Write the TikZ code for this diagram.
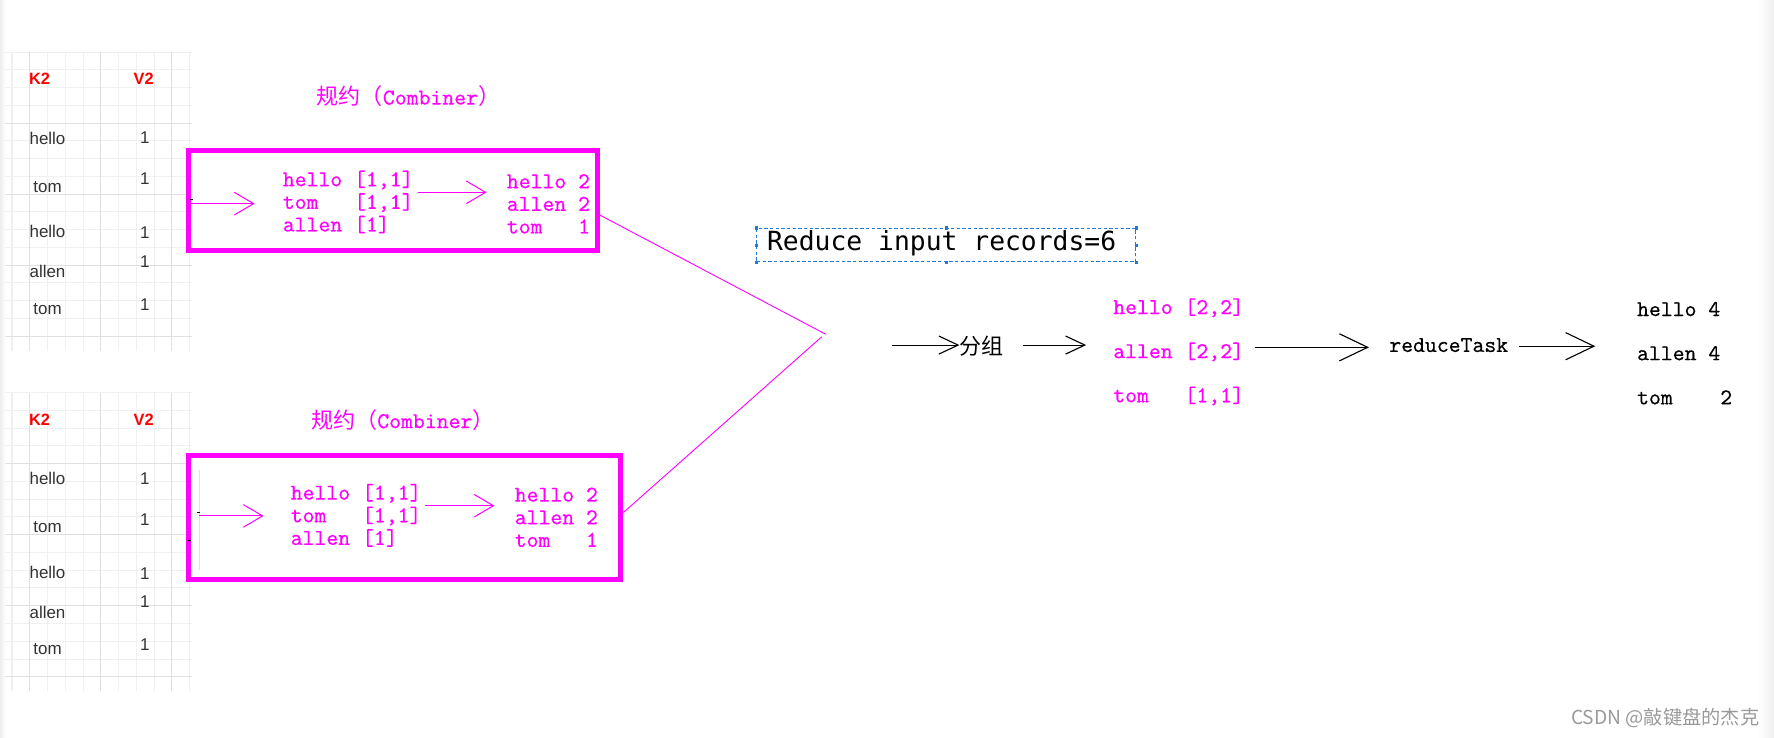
\documentclass[tikz,border=0pt]{standalone}
\usepackage{fontspec}
\usetikzlibrary{arrows.meta}
\newfontfamily\cjk{Noto Sans CJK SC}
\newfontfamily\dvm{DejaVu Sans Mono}
\newfontfamily\lib{Liberation Sans}
\newfontfamily\mymono{lmmono10-regular.otf}[FakeBold=0.35]
\definecolor{mg}{HTML}{FF00FF}
\definecolor{tbltext}{HTML}{333333}
\definecolor{gridminor}{HTML}{F0F0F0}
\definecolor{gridmajor}{HTML}{E0E0E0}
\definecolor{selblue}{HTML}{1E7BD6}
\definecolor{wm}{HTML}{9A9A9A}
\definecolor{hdrred}{HTML}{FF0000}
\begin{document}
\begin{tikzpicture}[x=1pt,y=-1pt,
  txt/.style={inner sep=0pt, outer sep=0pt},
  mono/.style={txt, font=\fontsize{20}{20}\selectfont\mymono, align=left, anchor=west},
  monowide/.style={txt, font=\fontsize{20}{39}\selectfont\mymono, align=left, anchor=west},
  tk/.style={txt, font=\fontsize{15}{15}\selectfont\lib, text=tbltext},
  hdr/.style={txt, font=\fontsize{14.5}{14.5}\selectfont\lib\bfseries, text=hdrred},
  ttl/.style={txt, text=mg, anchor=west, font=\fontsize{19.5}{19.5}\selectfont\cjk},
  combox/.style={draw=mg, line width=4.4pt, inner sep=0pt, fill=none},
  mline/.style={draw=mg, line width=0.8pt},
  marrow/.style={draw=mg, line width=0.9pt, -{Straight Barb[length=17pt,width=20pt]}},
  sarrow/.style={draw=black, line width=1pt, -{Straight Barb[length=17pt,width=16pt]}},
  barrow/.style={draw=black, line width=1pt, -{Straight Barb[length=25pt,width=24pt]}},
  gminor/.style={draw=gridminor, line width=0.9pt},
  gmajor/.style={draw=gridmajor, line width=0.9pt},
  handle/.style={fill=selblue}
]
\useasboundingbox (0,0) rectangle (1568,652);
\fill[white] (0,0) rectangle (1568,652);
% screenshot edge strips
\shade[left color=gray!14, right color=white] (0,0) rectangle (5,652);
\shade[left color=white, right color=gray!12] (1553,0) rectangle (1568,652);

% grids of the two tables
\foreach \oy in {0,301} {
  \foreach \k in {0,...,10} { \draw[gminor] (10.6+15.7*\k, 46+\oy) -- (10.6+15.7*\k, 310+\oy); }
  \foreach \k in {0,...,16} { \draw[gminor] (4.4, 46+15.7*\k+\oy) -- (170, 46+15.7*\k+\oy); }
  \foreach \k in {1,5,9} { \draw[gmajor] (10.6+15.7*\k, 46+\oy) -- (10.6+15.7*\k, 310+\oy); }
  \foreach \k in {4,8,12,16} { \draw[gmajor] (4.4, 46+15.7*\k+\oy) -- (170, 46+15.7*\k+\oy); }
}

% table texts
\foreach \oy/\s in {0/a,301/b} {
  \node[hdr] (k2\s) at (35,70+\oy) {K2};
  \node[hdr] (v2\s) at (127,70+\oy) {V2};
  \node[tk] (ka\s) at (42,122+\oy) {hello};
  \node[tk] (kb\s) at (42,165+\oy) {tom};
  \node[tk] (kc\s) at (42,205+\oy) {hello};
  \node[tk] (kd\s) at (42,240+\oy) {allen};
  \node[tk] (ke\s) at (42,273+\oy) {tom};
  \node[tk] (va\s) at (128,122+\oy) {1};
  \node[tk] (vb\s) at (128,158+\oy) {1};
  \node[tk] (vc\s) at (128,206+\oy) {1};
  \node[tk] (vd\s) at (128,231+\oy) {1};
  \node[tk] (ve\s) at (128,269+\oy) {1};
}

% titles
\node[ttl] (title1) at (280,85) {规约（{\fontsize{20}{20}\selectfont\mymono Combiner}）};
\node[ttl] (title2) at (275,371) {规约（{\fontsize{20}{20}\selectfont\mymono Combiner}）};

% combiner boxes
\node[combox, minimum width=361.6pt, minimum height=88.6pt] (box1) at (347,177.5) {};
\node[combox, minimum width=382.6pt, minimum height=109.6pt] (box2) at (357.5,457) {};

% small artefact ticks
\draw[black, line width=0.8pt] (168,176) -- (171,176);
\draw[gray!25, line width=0.8pt] (176,415) -- (176,504);
\draw[black, line width=0.8pt] (174,453) -- (177,453);
\draw[black, line width=0.8pt] (166,478) -- (169,478);

% box 1 contents
\node[mono, text=mg] (in1) at (250,178.5) {hello [1,1]\\tom~~~[1,1]\\allen [1]};
\node[mono, text=mg] (out1) at (448,180.2) {hello 2\\allen 2\\tom~~~1};
\coordinate (m1a) at (168,180);
\coordinate (m1b) at (225,180);
\coordinate (m2a) at (369.5,170);
\coordinate (m2b) at (430,170);
\draw[marrow] (m1a) -- (m1b);
\draw[marrow] (m2a) -- (m2b);

% box 2 contents
\node[mono, text=mg] (in2) at (257,455.5) {hello [1,1]\\tom~~~[1,1]\\allen [1]};
\node[mono, text=mg] (out2) at (455,457.2) {hello 2\\allen 2\\tom~~~1};
\coordinate (m3a) at (176,456);
\coordinate (m3b) at (233,456);
\coordinate (m4a) at (376,447);
\coordinate (m4b) at (437,447);
\draw[marrow] (m3a) -- (m3b);
\draw[marrow] (m4a) -- (m4b);

% merging lines
\coordinate (j1) at (730,295.5);
\coordinate (j2) at (726.4,297.6);
\draw[mline] ([yshift=-12.5pt]box1.east) -- (j1);
\draw[mline] ([yshift=4pt]box2.east) -- (j2);

% reduce input records
\node[draw=selblue, line width=0.9pt, dash pattern=on 3pt off 2pt, minimum width=335pt, minimum height=29.5pt, inner sep=0pt] (rbox) at (836.5,216.75) {};
\foreach \a in {north west,north,north east,west,east,south west,south,south east} {
  \fill[handle] (rbox.\a) +(-1.4,-1.4) rectangle +(1.4,1.4);
}
\node[txt, font=\fontsize{23.3}{23.3}\selectfont\dvm, anchor=west] (rir) at (678,215) {Reduce input records=6};

% grouping
\node[txt, anchor=west, font=\fontsize{19.5}{19.5}\selectfont\cjk] (fenzu) at (848,306) {分组};
\coordinate (g1) at (788,305);
\coordinate (g2) at (904,305);
\coordinate (g3) at (960,305);
\draw[sarrow] (g1) -- (g1 -| fenzu.west);
\draw[sarrow] (g2) -- (g3);

\node[monowide, text=mg] (grp) at (984,311) {hello [2,2]\\allen [2,2]\\tom~~~[1,1]};
\coordinate (r1) at (1109,307);
\coordinate (r2) at (1210,307);
\draw[barrow] (r1) -- (r2);
\node[mono] (rtask) at (1228,305) {reduceTask};
\coordinate (r3) at (1343,306);
\coordinate (r4) at (1410,306);
\draw[barrow] (r3) -- (r4);
\node[monowide] (res) at (1447,312.2) {hello 4\\allen 4\\tom~~~~2};

% watermark
\node[txt, anchor=east, font=\fontsize{17}{17}\selectfont\cjk, text=wm] (wmk) at (1555,635) {CSDN @敲键盘的杰克};
\end{tikzpicture}
\end{document}
